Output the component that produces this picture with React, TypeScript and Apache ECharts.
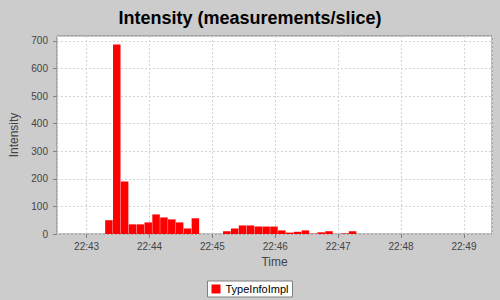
import React, { useEffect, useRef } from "react";
import * as echarts from "echarts";

// Slice start times (7.5 s slices) and measurement counts per slice
const sliceStarts = [
  "22:43:17.5", "22:43:25", "22:43:32.5", "22:43:40", "22:43:47.5", "22:43:55",
  "22:44:02.5", "22:44:10", "22:44:17.5", "22:44:25", "22:44:32.5", "22:44:40",
  "22:44:47.5", "22:44:55", "22:45:02.5", "22:45:10", "22:45:17.5", "22:45:25",
  "22:45:32.5", "22:45:40", "22:45:47.5", "22:45:55", "22:46:02.5", "22:46:10",
  "22:46:17.5", "22:46:25", "22:46:32.5", "22:46:40", "22:46:47.5", "22:46:55",
  "22:47:02.5", "22:47:10",
];
const intensity = [
  50, 687, 190, 35, 35, 42,
  71, 60, 53, 42, 20, 57,
  0, 0, 0, 10, 20, 31,
  31, 27, 27, 27, 13, 5,
  8, 13, 1, 6, 10, 0,
  2, 10,
];
const sliceSeconds = 7.5;
const axisStart = "22:42:35.3";
const axisEnd = "22:49:23.2";
const yTicks = [0, 100, 200, 300, 400, 500, 600, 700];
const seriesName = "TypeInfoImpl";

function toTime(s: string): number {
  const [h, m, sec] = s.split(":");
  const secNum = parseFloat(sec);
  const whole = Math.floor(secNum);
  const ms = Math.round((secNum - whole) * 1000);
  return new Date(2024, 0, 1, parseInt(h), parseInt(m), whole, ms).getTime();
}

export default function App() {
  const ref = useRef<HTMLDivElement>(null);
  useEffect(() => {
    if (!ref.current) return;
    const chart = echarts.init(ref.current, null, { renderer: "svg" });
    const font = "'Liberation Sans', Arial, sans-serif";
    const data = sliceStarts.map((t, i) => [toTime(t) + (sliceSeconds * 1000) / 2, intensity[i]]);
    chart.setOption({
      animation: false,
      backgroundColor: "#cccccc",
      textStyle: { fontFamily: font },
      title: {
        text: "Intensity (measurements/slice)",
        left: "center",
        top: 4,
        textStyle: { fontSize: 18, fontWeight: "bold", color: "#000000", fontFamily: font },
      },
      legend: {
        data: [seriesName],
        left: "center",
        top: 281,
        icon: "rect",
        itemWidth: 9,
        itemHeight: 9,
        itemGap: 5,
        padding: [2, 4],
        borderColor: "#808080",
        borderWidth: 1,
        backgroundColor: "#ffffff",
        textStyle: { fontSize: 11, color: "#000000", fontFamily: font, lineHeight: 12 },
      },
      grid: {
        left: 57,
        right: 8,
        top: 36,
        bottom: 66,
        show: true,
        backgroundColor: "#ffffff",
        borderColor: "#808080",
        borderWidth: 1,
      },
      xAxis: {
        type: "time",
        min: toTime(axisStart),
        max: toTime(axisEnd),
        minInterval: 60000,
        maxInterval: 60000,
        name: "Time",
        nameLocation: "middle",
        nameGap: 21,
        nameTextStyle: { fontSize: 12, color: "#444444", fontFamily: font },
        axisLine: { show: false },
        axisTick: { show: true, length: 4, lineStyle: { color: "#808080" } },
        axisLabel: {
          formatter: "{HH}:{mm}",
          fontSize: 10,
          color: "#444444",
          margin: 7,
          showMinLabel: false,
          showMaxLabel: false,
          fontFamily: font,
        },
        splitLine: { show: true, lineStyle: { color: "#d4d4d4", type: [2, 2], width: 1 } },
      },
      yAxis: {
        type: "value",
        min: yTicks[0],
        max: 718,
        interval: 100,
        name: "Intensity",
        nameLocation: "middle",
        nameGap: 29,
        nameTextStyle: { fontSize: 12, color: "#444444", fontFamily: font },
        axisLine: { show: false },
        axisTick: { show: true, length: 4, lineStyle: { color: "#808080" } },
        axisLabel: {
          fontSize: 10,
          color: "#444444",
          margin: 9,
          showMaxLabel: false,
          fontFamily: font,
        },
        splitLine: { show: true, lineStyle: { color: "#d4d4d4", type: [2, 2], width: 1 } },
      },
      series: [
        {
          name: seriesName,
          type: "bar",
          data,
          barWidth: 7.5,
          itemStyle: { color: "#ff0000" },
        },
      ],
    });
    return () => chart.dispose();
  }, []);
  return (
    <div
      ref={ref}
      style={{ position: "absolute", left: 0, top: 0, width: 500, height: 300 }}
    />
  );
}
